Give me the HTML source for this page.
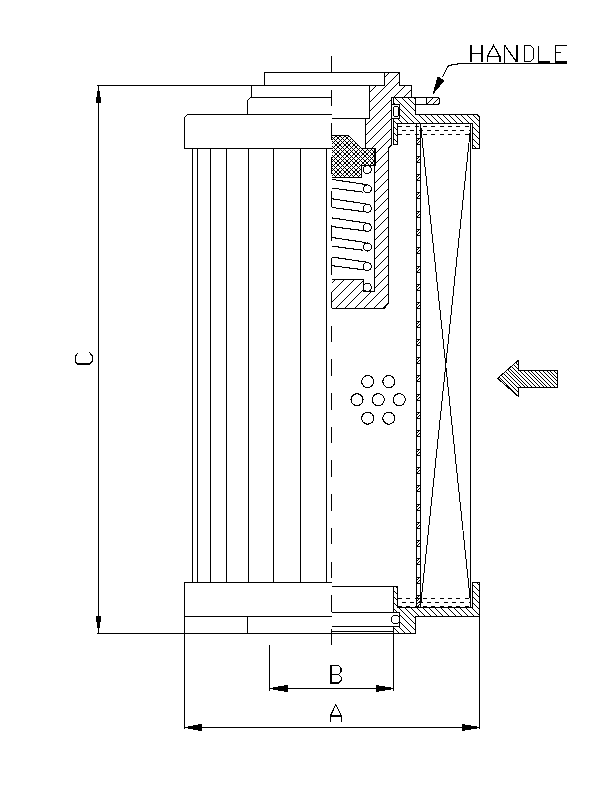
<!DOCTYPE html>
<html><head><meta charset="utf-8"><style>
html,body{margin:0;padding:0;background:#fff;}
svg{display:block;}
</style></head><body>
<svg width="612" height="792" viewBox="0 0 612 792">
<defs><clipPath id="c1"><path d="M384.5,72.5 L399.5,72.5 L399.5,85.5 L411.5,85.5 L411.5,97.5 L391.5,97.5 L391.5,145 L388.5,148 L388.5,303.5 L384,308.5 L332,308.5 L332,279.5 L363.5,279.5 L363.5,291.5 L374.5,291.5 L374.5,148.5 L365.5,148.5 L365.5,118.5 L369.5,118.5 L369.5,85.5 L384.5,85.5 Z" clip-rule="evenodd"/></clipPath><pattern id="xh9" patternUnits="userSpaceOnUse" width="9" height="9"><path d="M2,0h1v1h-1zM3,0h1v1h-1zM6,0h1v1h-1zM7,0h1v1h-1zM2,1h1v1h-1zM3,1h1v1h-1zM6,1h1v1h-1zM7,1h1v1h-1zM1,2h1v1h-1zM4,2h1v1h-1zM5,2h1v1h-1zM8,2h1v1h-1zM0,3h1v1h-1zM4,3h1v1h-1zM5,3h1v1h-1zM1,4h1v1h-1zM3,4h1v1h-1zM6,4h1v1h-1zM8,4h1v1h-1zM2,5h1v1h-1zM7,5h1v1h-1zM1,6h1v1h-1zM3,6h1v1h-1zM6,6h1v1h-1zM8,6h1v1h-1zM0,7h1v1h-1zM4,7h1v1h-1zM5,7h1v1h-1zM1,8h1v1h-1zM4,8h1v1h-1zM5,8h1v1h-1zM8,8h1v1h-1z" fill="#000" stroke="none"/></pattern><clipPath id="c2"><path d="M393.5,97.5 L415.5,97.5 L415.5,114.5 L477,114.5 L479.5,117 L479.5,148.5 L472.5,148.5 L472.5,123.5 L397.5,123.5 L397.5,144.5 L393.5,144.5 Z" clip-rule="evenodd"/></clipPath><clipPath id="c3"><path d="M426.5,97.5 L437.5,97.5 L439.5,99.5 L439.5,102.5 L437.5,104.5 L426.5,104.5 Z" clip-rule="evenodd"/></clipPath><clipPath id="c4"><path d="M393.5,586.5 L397.5,586.5 L397.5,607.5 L472.5,607.5 L472.5,582.5 L479.5,582.5 L479.5,616.5 L415.5,616.5 L415.5,633.5 L393.5,633.5 Z" clip-rule="evenodd"/></clipPath><clipPath id="c5"><path d="M497.6,378.3 L518.5,360.2 L518.5,370.4 L557.7,370.4 L557.7,387 L518.5,387 L518.5,396.6 Z" clip-rule="evenodd"/></clipPath></defs>
<g stroke="#000" fill="none" stroke-linecap="butt" shape-rendering="crispEdges">
<line x1="98.5" y1="85" x2="98.5" y2="634" stroke-width="1.0" />
<line x1="97" y1="85.5" x2="385" y2="85.5" stroke-width="1.0" />
<line x1="399" y1="85.5" x2="412" y2="85.5" stroke-width="1.0" />
<polygon points="98.5,85.5 95.5,103 101.5,103" fill="#000" stroke="none"/>
<polygon points="98.5,633.5 95.5,616 101.5,616" fill="#000" stroke="none"/>
<line x1="97" y1="633.5" x2="416" y2="633.5" stroke-width="1.0" />
<path d="M77.8,353.3 L75.3,356 L75.3,361.5 L77.8,364 L89.5,364 L92.3,361 L92.3,356 L89.5,352.5" fill="none" stroke="#000" stroke-width="1.2" />
<line x1="78" y1="364.2" x2="90" y2="364.2" stroke-width="1.6" />
<line x1="269.5" y1="645" x2="269.5" y2="691" stroke-width="1.0" />
<line x1="393.5" y1="586" x2="393.5" y2="691" stroke-width="1.0" />
<line x1="269" y1="688.5" x2="394" y2="688.5" stroke-width="1.0" />
<polygon points="270,688.5 287,685.5 287,691.5" fill="#000"/>
<polygon points="393.5,688.5 376,685.5 376,691.5" fill="#000"/>
<path d="M329.5,665.5 L338.5,665.5 L341,668 L341,672 L338.5,674.3 L330.5,674.3 M338.5,674.3 L341.2,677 L341.2,680.5 L338.5,683 L329.5,683" fill="none" stroke="#000" stroke-width="1.1" />
<line x1="331" y1="665" x2="331" y2="683.5" stroke-width="2" />
<line x1="184.5" y1="117" x2="184.5" y2="149" stroke-width="1.0" />
<line x1="184.5" y1="582" x2="184.5" y2="729" stroke-width="1.0" />
<line x1="479.5" y1="582" x2="479.5" y2="729" stroke-width="1.0" />
<line x1="184" y1="727.5" x2="480" y2="727.5" stroke-width="1.0" />
<polygon points="185,727.5 201,724.5 201,730.5" fill="#000"/>
<polygon points="479.5,727.5 462,724.5 462,730.5" fill="#000"/>
<path d="M330.6,722 L330.6,715.5 L335.8,704.3 L341.2,715.5 L341.2,722" fill="none" stroke="#000" stroke-width="1.1" />
<line x1="330.6" y1="716" x2="341.2" y2="716" stroke-width="2" />
<line x1="264" y1="72.5" x2="400" y2="72.5" stroke-width="1.0" />
<line x1="264.5" y1="72" x2="264.5" y2="86" stroke-width="1.0" />
<line x1="251.5" y1="85" x2="251.5" y2="98" stroke-width="1.0" />
<path d="M331.5,97.5 L250.5,97.5 L247.5,100.5 L247.5,114.5" fill="none" stroke="#000" stroke-width="1.0" />
<path d="M331.5,114.5 L187.5,114.5 L184.5,117.5" fill="none" stroke="#000" stroke-width="1.0" />
<line x1="184" y1="148.5" x2="332" y2="148.5" stroke-width="1.0" />
<line x1="192.5" y1="148" x2="192.5" y2="583" stroke-width="1.0" />
<line x1="197.5" y1="148" x2="197.5" y2="583" stroke-width="1.0" />
<line x1="210.5" y1="148" x2="210.5" y2="583" stroke-width="1.0" />
<line x1="226.5" y1="148" x2="226.5" y2="583" stroke-width="1.0" />
<line x1="248.5" y1="148" x2="248.5" y2="583" stroke-width="1.0" />
<line x1="273.5" y1="148" x2="273.5" y2="583" stroke-width="1.0" />
<line x1="300.5" y1="148" x2="300.5" y2="583" stroke-width="1.0" />
<line x1="326.5" y1="148" x2="326.5" y2="583" stroke-width="1.0" />
<line x1="184" y1="582.5" x2="332" y2="582.5" stroke-width="1.0" />
<line x1="184" y1="616.5" x2="332" y2="616.5" stroke-width="1.0" />
<line x1="247.5" y1="616" x2="247.5" y2="634" stroke-width="1.0" />
<line x1="331.5" y1="56" x2="331.5" y2="647" stroke-width="1" stroke-dasharray="16.5 17.2"/>
<path d="M330,66 L413.5,-17.5 M330,75 L413.5,-8.5 M330,85 L413.5,1.5 M330,94 L413.5,10.5 M330,104 L413.5,20.5 M330,113 L413.5,29.5 M330,123 L413.5,39.5 M330,132 L413.5,48.5 M330,142 L413.5,58.5 M330,151 L413.5,67.5 M330,161 L413.5,77.5 M330,171 L413.5,87.5 M330,180 L413.5,96.5 M330,190 L413.5,106.5 M330,199 L413.5,115.5 M330,209 L413.5,125.5 M330,218 L413.5,134.5 M330,228 L413.5,144.5 M330,237 L413.5,153.5 M330,247 L413.5,163.5 M330,256 L413.5,172.5 M330,266 L413.5,182.5 M330,275 L413.5,191.5 M330,285 L413.5,201.5 M330,294 L413.5,210.5 M330,304 L413.5,220.5 M330,314 L413.5,230.5 M330,323 L413.5,239.5 M330,333 L413.5,249.5 M330,342 L413.5,258.5 M330,352 L413.5,268.5 M330,361 L413.5,277.5 M330,371 L413.5,287.5 M330,380 L413.5,296.5 M330,390 L413.5,306.5" stroke="#000" stroke-width="1.0" clip-path="url(#c1)"/>
<path d="M332,279.5 L363.5,279.5 L363.5,291.5 L374.5,291.5 L374.5,148.5 L365.5,148.5 L365.5,118.5 L369.5,118.5 L369.5,85.5 L384.5,85.5 L384.5,72.5 L399.5,72.5 L399.5,85.5 L411.5,85.5 L411.5,97.5 L391.5,97.5 L391.5,145 L388.5,148 L388.5,303.5 L384,308.5 L332,308.5" fill="none" stroke="#000" stroke-width="1.0" />
<line x1="332" y1="118.5" x2="370" y2="118.5" stroke-width="1.0" />
<polygon points="332,135.5 348.5,135.5 361.5,148.5 374.5,148.5 374.5,165.5 361.5,165.5 361.5,177.5 332,177.5" fill="url(#xh9)" stroke="none" stroke-width="1.0"/>
<path d="M332,135.5 L348.5,135.5 L361.5,148.5 L374.5,148.5 L374.5,165.5 L361.5,165.5 L361.5,177.5 L332,177.5" fill="none" stroke="#000" stroke-width="1.0" />
<line x1="374.5" y1="148" x2="374.5" y2="166" stroke-width="2" />
<circle cx="367.3" cy="169.6" r="4" fill="#fff" stroke="#000" stroke-width="1.1"/>
<circle cx="367.3" cy="188.9" r="4" fill="#fff" stroke="#000" stroke-width="1.1"/>
<circle cx="367.3" cy="208.3" r="4" fill="#fff" stroke="#000" stroke-width="1.1"/>
<circle cx="367.3" cy="227.4" r="4" fill="#fff" stroke="#000" stroke-width="1.1"/>
<circle cx="367.3" cy="247.0" r="4" fill="#fff" stroke="#000" stroke-width="1.1"/>
<circle cx="367.3" cy="266.5" r="4" fill="#fff" stroke="#000" stroke-width="1.1"/>
<circle cx="367.3" cy="287.3" r="4" fill="#fff" stroke="#000" stroke-width="1.1"/>
<line x1="332" y1="179.4" x2="366" y2="184.5" stroke-width="1.1" />
<line x1="332" y1="188.1" x2="363.5" y2="192.20000000000002" stroke-width="1.1" />
<line x1="332" y1="198.8" x2="366" y2="203.9" stroke-width="1.1" />
<line x1="332" y1="207.5" x2="363.5" y2="211.60000000000002" stroke-width="1.1" />
<line x1="332" y1="217.9" x2="366" y2="223.0" stroke-width="1.1" />
<line x1="332" y1="226.6" x2="363.5" y2="230.70000000000002" stroke-width="1.1" />
<line x1="332" y1="237.5" x2="366" y2="242.6" stroke-width="1.1" />
<line x1="332" y1="246.2" x2="363.5" y2="250.3" stroke-width="1.1" />
<line x1="332" y1="257.0" x2="366" y2="262.1" stroke-width="1.1" />
<line x1="332" y1="265.7" x2="363.5" y2="269.8" stroke-width="1.1" />
<path d="M391.5,148.5 L481.5,238.5 M391.5,142.5 L481.5,232.5 M391.5,136.5 L481.5,226.5 M391.5,130.5 L481.5,220.5 M391.5,124.5 L481.5,214.5 M391.5,118.5 L481.5,208.5 M391.5,112.5 L481.5,202.5 M391.5,106.5 L481.5,196.5 M391.5,100.5 L481.5,190.5 M391.5,94.5 L481.5,184.5 M391.5,87.5 L481.5,177.5 M391.5,81.5 L481.5,171.5 M391.5,75.5 L481.5,165.5 M391.5,69.5 L481.5,159.5 M391.5,63.5 L481.5,153.5 M391.5,57.5 L481.5,147.5 M391.5,51.5 L481.5,141.5 M391.5,45.5 L481.5,135.5 M391.5,39.5 L481.5,129.5 M391.5,33.5 L481.5,123.5 M391.5,26.5 L481.5,116.5 M391.5,20.5 L481.5,110.5 M391.5,14.5 L481.5,104.5" stroke="#000" stroke-width="1.0" clip-path="url(#c2)"/>
<polygon points="393.5,97.5 415.5,97.5 415.5,114.5 477,114.5 479.5,117 479.5,148.5 472.5,148.5 472.5,123.5 397.5,123.5 397.5,144.5 393.5,144.5" fill="none" stroke="#000" stroke-width="1"/>
<rect x="391.5" y="104.5" width="8" height="14" fill="#fff" stroke="#000" stroke-width="1"/>
<path d="M394.5,106.5 L397.5,106.5 L398.5,107.5 L398.5,115.5 L397.5,116.5 L394.5,116.5 L393.5,115.5 L393.5,107.5 Z" fill="none" stroke="#000" stroke-width="1.0" />
<path d="M415.5,97.5 L437.5,97.5 Q439.5,97.5 439.5,99.5 L439.5,102.5 Q439.5,104.5 437.5,104.5 L415.5,104.5 Z" fill="#fff" stroke="#000" stroke-width="1.0" />
<path d="M424.5,93.5 L441.5,76.5 M424.5,100.5 L441.5,83.5 M424.5,106.5 L441.5,89.5 M424.5,112.5 L441.5,95.5 M424.5,118.5 L441.5,101.5" stroke="#000" stroke-width="1.0" clip-path="url(#c3)"/>
<polygon points="426.5,97.5 437.5,97.5 439.5,99.5 439.5,102.5 437.5,104.5 426.5,104.5" fill="none" stroke="#000" stroke-width="1"/>
<line x1="398" y1="126.5" x2="470" y2="126.5" stroke-width="1" stroke-dasharray="4 4.32"/>
<line x1="402.1" y1="130.5" x2="470" y2="130.5" stroke-width="1" stroke-dasharray="4 4.32"/>
<line x1="398" y1="134.5" x2="470" y2="134.5" stroke-width="1" stroke-dasharray="4 4.32"/>
<path d="M391.5,637.5 L481.5,727.5 M391.5,631.5 L481.5,721.5 M391.5,625.5 L481.5,715.5 M391.5,619.5 L481.5,709.5 M391.5,613.5 L481.5,703.5 M391.5,606.5 L481.5,696.5 M391.5,600.5 L481.5,690.5 M391.5,594.5 L481.5,684.5 M391.5,588.5 L481.5,678.5 M391.5,582.5 L481.5,672.5 M391.5,576.5 L481.5,666.5 M391.5,570.5 L481.5,660.5 M391.5,564.5 L481.5,654.5 M391.5,558.5 L481.5,648.5 M391.5,551.5 L481.5,641.5 M391.5,545.5 L481.5,635.5 M391.5,539.5 L481.5,629.5 M391.5,533.5 L481.5,623.5 M391.5,527.5 L481.5,617.5 M391.5,521.5 L481.5,611.5 M391.5,515.5 L481.5,605.5 M391.5,509.5 L481.5,599.5 M391.5,503.5 L481.5,593.5 M391.5,497.5 L481.5,587.5" stroke="#000" stroke-width="1.0" clip-path="url(#c4)"/>
<polygon points="393.5,586.5 397.5,586.5 397.5,607.5 472.5,607.5 472.5,582.5 479.5,582.5 479.5,616.5 415.5,616.5 415.5,633.5 393.5,633.5" fill="none" stroke="#000" stroke-width="1"/>
<line x1="398" y1="598.5" x2="470" y2="598.5" stroke-width="1" stroke-dasharray="4 4.32"/>
<line x1="402.1" y1="602.5" x2="470" y2="602.5" stroke-width="1" stroke-dasharray="4 4.32"/>
<line x1="398" y1="606.5" x2="470" y2="606.5" stroke-width="1" stroke-dasharray="4 4.32"/>
<line x1="332" y1="586.5" x2="398" y2="586.5" stroke-width="1.0" />
<rect x="393" y="613" width="6" height="13" fill="#fff" stroke="none"/>
<line x1="332" y1="612.5" x2="400" y2="612.5" stroke-width="1.0" />
<line x1="399.5" y1="612" x2="399.5" y2="627" stroke-width="1.0" />
<line x1="332" y1="626.5" x2="400" y2="626.5" stroke-width="1.0" />
<line x1="332" y1="631.5" x2="394" y2="631.5" stroke-width="1.0" />
<circle cx="395.3" cy="619.5" r="4.2" fill="none" stroke="#000" stroke-width="1"/>
<line x1="416.5" y1="123" x2="416.5" y2="608" stroke-width="1.0" />
<line x1="420.5" y1="123" x2="420.5" y2="608" stroke-width="1.0" />
<path d="M417,138h3v1h-3zM417,144h3v1h-3zM418,139h1v1h-1zM417,140h1v1h-1zM419,141h1v1h-1zM418,142h1v1h-1zM417,143h1v1h-1zM417,156h3v1h-3zM417,162h3v1h-3zM418,157h1v1h-1zM417,158h1v1h-1zM419,159h1v1h-1zM418,160h1v1h-1zM417,161h1v1h-1zM417,174h3v1h-3zM417,180h3v1h-3zM418,175h1v1h-1zM417,176h1v1h-1zM419,177h1v1h-1zM418,178h1v1h-1zM417,179h1v1h-1zM417,192h3v1h-3zM417,198h3v1h-3zM418,193h1v1h-1zM417,194h1v1h-1zM419,195h1v1h-1zM418,196h1v1h-1zM417,197h1v1h-1zM417,211h3v1h-3zM417,217h3v1h-3zM418,212h1v1h-1zM417,213h1v1h-1zM419,214h1v1h-1zM418,215h1v1h-1zM417,216h1v1h-1zM417,229h3v1h-3zM417,235h3v1h-3zM418,230h1v1h-1zM417,231h1v1h-1zM419,232h1v1h-1zM418,233h1v1h-1zM417,234h1v1h-1zM417,247h3v1h-3zM417,253h3v1h-3zM418,248h1v1h-1zM417,249h1v1h-1zM419,250h1v1h-1zM418,251h1v1h-1zM417,252h1v1h-1zM417,266h3v1h-3zM417,272h3v1h-3zM418,267h1v1h-1zM417,268h1v1h-1zM419,269h1v1h-1zM418,270h1v1h-1zM417,271h1v1h-1zM417,284h3v1h-3zM417,290h3v1h-3zM418,285h1v1h-1zM417,286h1v1h-1zM419,287h1v1h-1zM418,288h1v1h-1zM417,289h1v1h-1zM417,302h3v1h-3zM417,308h3v1h-3zM418,303h1v1h-1zM417,304h1v1h-1zM419,305h1v1h-1zM418,306h1v1h-1zM417,307h1v1h-1zM417,321h3v1h-3zM417,327h3v1h-3zM418,322h1v1h-1zM417,323h1v1h-1zM419,324h1v1h-1zM418,325h1v1h-1zM417,326h1v1h-1zM417,339h3v1h-3zM417,345h3v1h-3zM418,340h1v1h-1zM417,341h1v1h-1zM419,342h1v1h-1zM418,343h1v1h-1zM417,344h1v1h-1zM417,357h3v1h-3zM417,363h3v1h-3zM418,358h1v1h-1zM417,359h1v1h-1zM419,360h1v1h-1zM418,361h1v1h-1zM417,362h1v1h-1zM417,375h3v1h-3zM417,381h3v1h-3zM418,376h1v1h-1zM417,377h1v1h-1zM419,378h1v1h-1zM418,379h1v1h-1zM417,380h1v1h-1zM417,394h3v1h-3zM417,400h3v1h-3zM418,395h1v1h-1zM417,396h1v1h-1zM419,397h1v1h-1zM418,398h1v1h-1zM417,399h1v1h-1zM417,412h3v1h-3zM417,418h3v1h-3zM418,413h1v1h-1zM417,414h1v1h-1zM419,415h1v1h-1zM418,416h1v1h-1zM417,417h1v1h-1zM417,430h3v1h-3zM417,436h3v1h-3zM418,431h1v1h-1zM417,432h1v1h-1zM419,433h1v1h-1zM418,434h1v1h-1zM417,435h1v1h-1zM417,449h3v1h-3zM417,455h3v1h-3zM418,450h1v1h-1zM417,451h1v1h-1zM419,452h1v1h-1zM418,453h1v1h-1zM417,454h1v1h-1zM417,467h3v1h-3zM417,473h3v1h-3zM418,468h1v1h-1zM417,469h1v1h-1zM419,470h1v1h-1zM418,471h1v1h-1zM417,472h1v1h-1zM417,485h3v1h-3zM417,491h3v1h-3zM418,486h1v1h-1zM417,487h1v1h-1zM419,488h1v1h-1zM418,489h1v1h-1zM417,490h1v1h-1zM417,504h3v1h-3zM417,510h3v1h-3zM418,505h1v1h-1zM417,506h1v1h-1zM419,507h1v1h-1zM418,508h1v1h-1zM417,509h1v1h-1zM417,522h3v1h-3zM417,528h3v1h-3zM418,523h1v1h-1zM417,524h1v1h-1zM419,525h1v1h-1zM418,526h1v1h-1zM417,527h1v1h-1zM417,540h3v1h-3zM417,546h3v1h-3zM418,541h1v1h-1zM417,542h1v1h-1zM419,543h1v1h-1zM418,544h1v1h-1zM417,545h1v1h-1zM417,558h3v1h-3zM417,564h3v1h-3zM418,559h1v1h-1zM417,560h1v1h-1zM419,561h1v1h-1zM418,562h1v1h-1zM417,563h1v1h-1zM417,577h3v1h-3zM417,583h3v1h-3zM418,578h1v1h-1zM417,579h1v1h-1zM419,580h1v1h-1zM418,581h1v1h-1zM417,582h1v1h-1zM417,595h3v1h-3zM418,596h1v1h-1zM417,597h1v1h-1zM419,598h1v1h-1zM418,599h1v1h-1zM417,600h1v1h-1zM419,601h1v1h-1zM418,602h1v1h-1zM417,603h1v1h-1zM419,604h1v1h-1zM418,605h1v1h-1zM417,606h1v1h-1z" fill="#000" stroke="none"/>
<line x1="420.5" y1="123.5" x2="471" y2="607" stroke-width="1" />
<line x1="471" y1="123.5" x2="420.5" y2="607" stroke-width="1" />
<line x1="470.5" y1="123" x2="470.5" y2="608" stroke-width="1.0" />
<circle cx="367.7" cy="381.6" r="6" fill="none" stroke="#000" stroke-width="1.1"/>
<circle cx="388.8" cy="381.6" r="6" fill="none" stroke="#000" stroke-width="1.1"/>
<circle cx="357" cy="399.7" r="6" fill="none" stroke="#000" stroke-width="1.1"/>
<circle cx="378.3" cy="399.7" r="6" fill="none" stroke="#000" stroke-width="1.1"/>
<circle cx="399.3" cy="399.7" r="6" fill="none" stroke="#000" stroke-width="1.1"/>
<circle cx="367.7" cy="418.2" r="6" fill="none" stroke="#000" stroke-width="1.1"/>
<circle cx="388.8" cy="418.2" r="6" fill="none" stroke="#000" stroke-width="1.1"/>
<path d="M495.6,395.6 L559.7,459.70000000000005 M495.6,392.6 L559.7,456.70000000000005 M495.6,388.6 L559.7,452.70000000000005 M495.6,384.6 L559.7,448.70000000000005 M495.6,380.6 L559.7,444.70000000000005 M495.6,376.6 L559.7,440.70000000000005 M495.6,373.6 L559.7,437.70000000000005 M495.6,369.6 L559.7,433.70000000000005 M495.6,365.6 L559.7,429.70000000000005 M495.6,361.6 L559.7,425.70000000000005 M495.6,357.6 L559.7,421.70000000000005 M495.6,354.6 L559.7,418.70000000000005 M495.6,350.6 L559.7,414.70000000000005 M495.6,346.6 L559.7,410.70000000000005 M495.6,342.6 L559.7,406.70000000000005 M495.6,338.6 L559.7,402.70000000000005 M495.6,335.6 L559.7,399.70000000000005 M495.6,331.6 L559.7,395.70000000000005 M495.6,327.6 L559.7,391.70000000000005 M495.6,323.6 L559.7,387.70000000000005 M495.6,319.6 L559.7,383.70000000000005 M495.6,316.6 L559.7,380.70000000000005 M495.6,312.6 L559.7,376.70000000000005 M495.6,308.6 L559.7,372.70000000000005 M495.6,304.6 L559.7,368.70000000000005 M495.6,300.6 L559.7,364.70000000000005" stroke="#000" stroke-width="1.0" clip-path="url(#c5)"/>
<polygon points="497.6,378.3 518.5,360.2 518.5,370.4 557.7,370.4 557.7,387 518.5,387 518.5,396.6" fill="none" stroke="#000" stroke-width="1"/>
<path d="M471,45 L471,62 M482,45 L482,62" fill="none" stroke="#000" stroke-width="2" />
<path d="M471,53.5 L482,53.5" fill="none" stroke="#000" stroke-width="1" />
<path d="M487.5,62 L487.5,56.2 L493.6,45.5 L499.6,56.2 M487.5,56.5 L499.6,56.5" fill="none" stroke="#000" stroke-width="1.2" />
<path d="M500,56 L500,62" fill="none" stroke="#000" stroke-width="2" />
<path d="M504.5,45 L504.5,63 M504.5,45 L516.2,61.5" fill="none" stroke="#000" stroke-width="1.2" />
<path d="M517,45 L517,62" fill="none" stroke="#000" stroke-width="2" />
<path d="M524.5,45.5 L530.5,45.5 L533.5,48.5 L533.5,58.5 L530.5,61.5 L524.5,61.5 Z" fill="none" stroke="#000" stroke-width="1" />
<path d="M538.5,45.5 L538.5,61" fill="none" stroke="#000" stroke-width="1" />
<path d="M538,62 L550,62" fill="none" stroke="#000" stroke-width="2" />
<path d="M567,45.5 L555.5,45.5 L555.5,61 M555.5,52.5 L561,52.5" fill="none" stroke="#000" stroke-width="1" />
<path d="M555,62 L567,62" fill="none" stroke="#000" stroke-width="2" />
<path d="M567,63.2 L462.2,63.2 L455.2,64.4 L449.1,65.4 L447.5,66.8 L442.6,77" fill="none" stroke="#000" stroke-width="1.1" />
<polygon points="433.2,93.4 438,77 443.8,80.7" fill="#000"/>
</g>
</svg>
</body></html>
